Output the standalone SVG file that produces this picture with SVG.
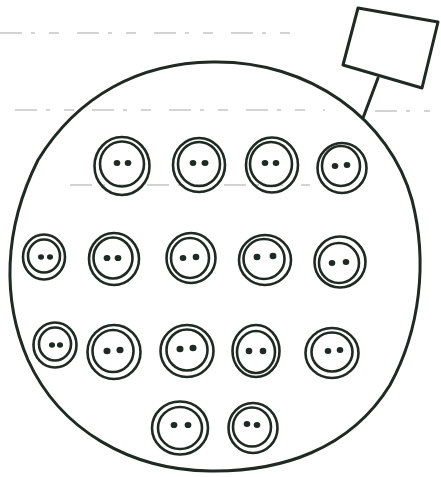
<svg xmlns="http://www.w3.org/2000/svg" width="441" height="477" viewBox="0 0 441 477">
<style>
.ln{fill:none;stroke:#1f2a24;stroke-width:3;stroke-linecap:round;stroke-linejoin:round}
.r{fill:none;stroke:#1f2a24;stroke-width:2.6}
.d{fill:#1f2a24}
.scan{fill:none;stroke:#a8aca9;stroke-width:1.2;stroke-dasharray:22 9 4 14 10 18}
</style>
<rect width="441" height="477" fill="#ffffff"/>
<g id="scan-lines">
<path class="scan" d="M0 33 H305"/>
<path class="scan" d="M15 110 H325 M375 111 H430"/>
<path class="scan" d="M70 185 H310"/>
</g>
<g id="body">
<path class="ln" d="M212 62 C310 60 390 120 412 200 C428 262 420 330 390 385 C350 450 280 472 210 471 C130 470 60 430 28 360 C2 300 3 230 38 160 C78 95 140 63 212 62 Z"/>
</g>
<g id="connectors">
<path class="ln" d="M378 78 L363 118"/>
</g>
<g id="flag">
<path class="ln" d="M358 8 L438 22 L422 88 L343 65 Z"/>
</g>
<g id="b1"><ellipse class="r" cx="122" cy="166" rx="27.5" ry="29"/><ellipse class="r" cx="122" cy="164" rx="22" ry="22.5"/><ellipse class="d" cx="117" cy="163" rx="3.3" ry="3"/><ellipse class="d" cx="128" cy="163" rx="3.3" ry="3"/></g>
<g id="b2"><ellipse class="r" cx="199" cy="165" rx="26" ry="27"/><ellipse class="r" cx="199" cy="164" rx="21" ry="22" stroke-width="3.2"/><ellipse class="d" cx="193" cy="163" rx="3.3" ry="3"/><ellipse class="d" cx="205" cy="163" rx="3.5" ry="3"/></g>
<g id="b3"><ellipse class="r" cx="272" cy="165" rx="26" ry="27.5"/><ellipse class="r" cx="271" cy="164" rx="21" ry="22"/><ellipse class="d" cx="265" cy="163" rx="3.3" ry="3"/><ellipse class="d" cx="276" cy="163" rx="3.3" ry="3"/></g>
<g id="b4"><ellipse class="r" cx="342" cy="168" rx="24.5" ry="25"/><ellipse class="r" cx="341" cy="166" rx="19" ry="20"/><ellipse class="d" cx="335" cy="166" rx="3.3" ry="3"/><ellipse class="d" cx="347" cy="165" rx="3.3" ry="3"/></g>
<g id="c1"><ellipse class="r" cx="44" cy="257" rx="21" ry="22.5"/><ellipse class="r" cx="44" cy="256" rx="16" ry="16.5"/><ellipse class="d" cx="41" cy="257" rx="3" ry="2.8"/><ellipse class="d" cx="50" cy="257" rx="3" ry="2.8"/></g>
<g id="c2"><ellipse class="r" cx="114" cy="259" rx="25" ry="26"/><ellipse class="r" cx="113" cy="258" rx="19.5" ry="20.5"/><ellipse class="d" cx="107" cy="258" rx="3.4" ry="3.1"/><ellipse class="d" cx="118" cy="258" rx="3.4" ry="3.1"/></g>
<g id="c3"><ellipse class="r" cx="191" cy="258" rx="24.5" ry="25"/><ellipse class="r" cx="190" cy="258" rx="19" ry="20"/><ellipse class="d" cx="183" cy="258" rx="3.3" ry="3"/><ellipse class="d" cx="196" cy="257" rx="3.3" ry="3.2"/></g>
<g id="c4"><ellipse class="r" cx="265" cy="260" rx="26" ry="25"/><ellipse class="r" cx="264" cy="259" rx="20.5" ry="20"/><ellipse class="d" cx="257" cy="257" rx="3.4" ry="3.2"/><ellipse class="d" cx="273" cy="256" rx="3.4" ry="3.2"/></g>
<g id="c5"><ellipse class="r" cx="340" cy="262" rx="25.5" ry="25.5"/><ellipse class="r" cx="339" cy="263" rx="20" ry="20"/><ellipse class="d" cx="332" cy="263" rx="3.3" ry="3"/><ellipse class="d" cx="346" cy="262" rx="3.3" ry="3"/></g>
<g id="d1"><ellipse class="r" cx="55" cy="345" rx="21.5" ry="22.5"/><ellipse class="r" cx="55" cy="344" rx="16" ry="16.5"/><ellipse class="d" cx="52" cy="345" rx="3" ry="2.8"/><ellipse class="d" cx="60" cy="345" rx="3" ry="2.8"/></g>
<g id="d2"><ellipse class="r" cx="114" cy="352" rx="26.5" ry="27"/><ellipse class="r" cx="113" cy="351" rx="20.5" ry="21"/><ellipse class="d" cx="107" cy="351" rx="3.5" ry="3.2"/><ellipse class="d" cx="120" cy="350" rx="3.5" ry="3.2"/></g>
<g id="d3"><ellipse class="r" cx="187" cy="351" rx="26.5" ry="26"/><ellipse class="r" cx="187" cy="350" rx="20.5" ry="20.5"/><ellipse class="d" cx="180" cy="349" rx="3.5" ry="3.2"/><ellipse class="d" cx="193" cy="348" rx="3.5" ry="3.2"/></g>
<g id="d4"><ellipse class="r" cx="256" cy="351" rx="23.5" ry="26"/><ellipse class="r" cx="256" cy="352" rx="19" ry="21" stroke-width="3.4"/><ellipse class="d" cx="249" cy="351" rx="3.3" ry="3.2"/><ellipse class="d" cx="263" cy="351" rx="3.3" ry="3.2"/></g>
<g id="d5"><ellipse class="r" cx="332" cy="353" rx="26.5" ry="25"/><ellipse class="r" cx="332" cy="352" rx="20.5" ry="19.5"/><ellipse class="d" cx="328" cy="351" rx="3.3" ry="3"/><ellipse class="d" cx="340" cy="350" rx="3.3" ry="3"/></g>
<g id="e1"><ellipse class="r" cx="180" cy="428" rx="28" ry="26.5"/><ellipse class="r" cx="180" cy="428" rx="22" ry="21" stroke-width="3.2"/><ellipse class="d" cx="174" cy="425" rx="3.4" ry="3.1"/><ellipse class="d" cx="188" cy="425" rx="3.4" ry="3.1"/></g>
<g id="e2"><ellipse class="r" cx="253" cy="428" rx="24.5" ry="25"/><ellipse class="r" cx="252" cy="427" rx="19" ry="19.5"/><ellipse class="d" cx="247" cy="424" rx="3.3" ry="3"/><ellipse class="d" cx="257" cy="425" rx="3.3" ry="3"/></g>
</svg>
